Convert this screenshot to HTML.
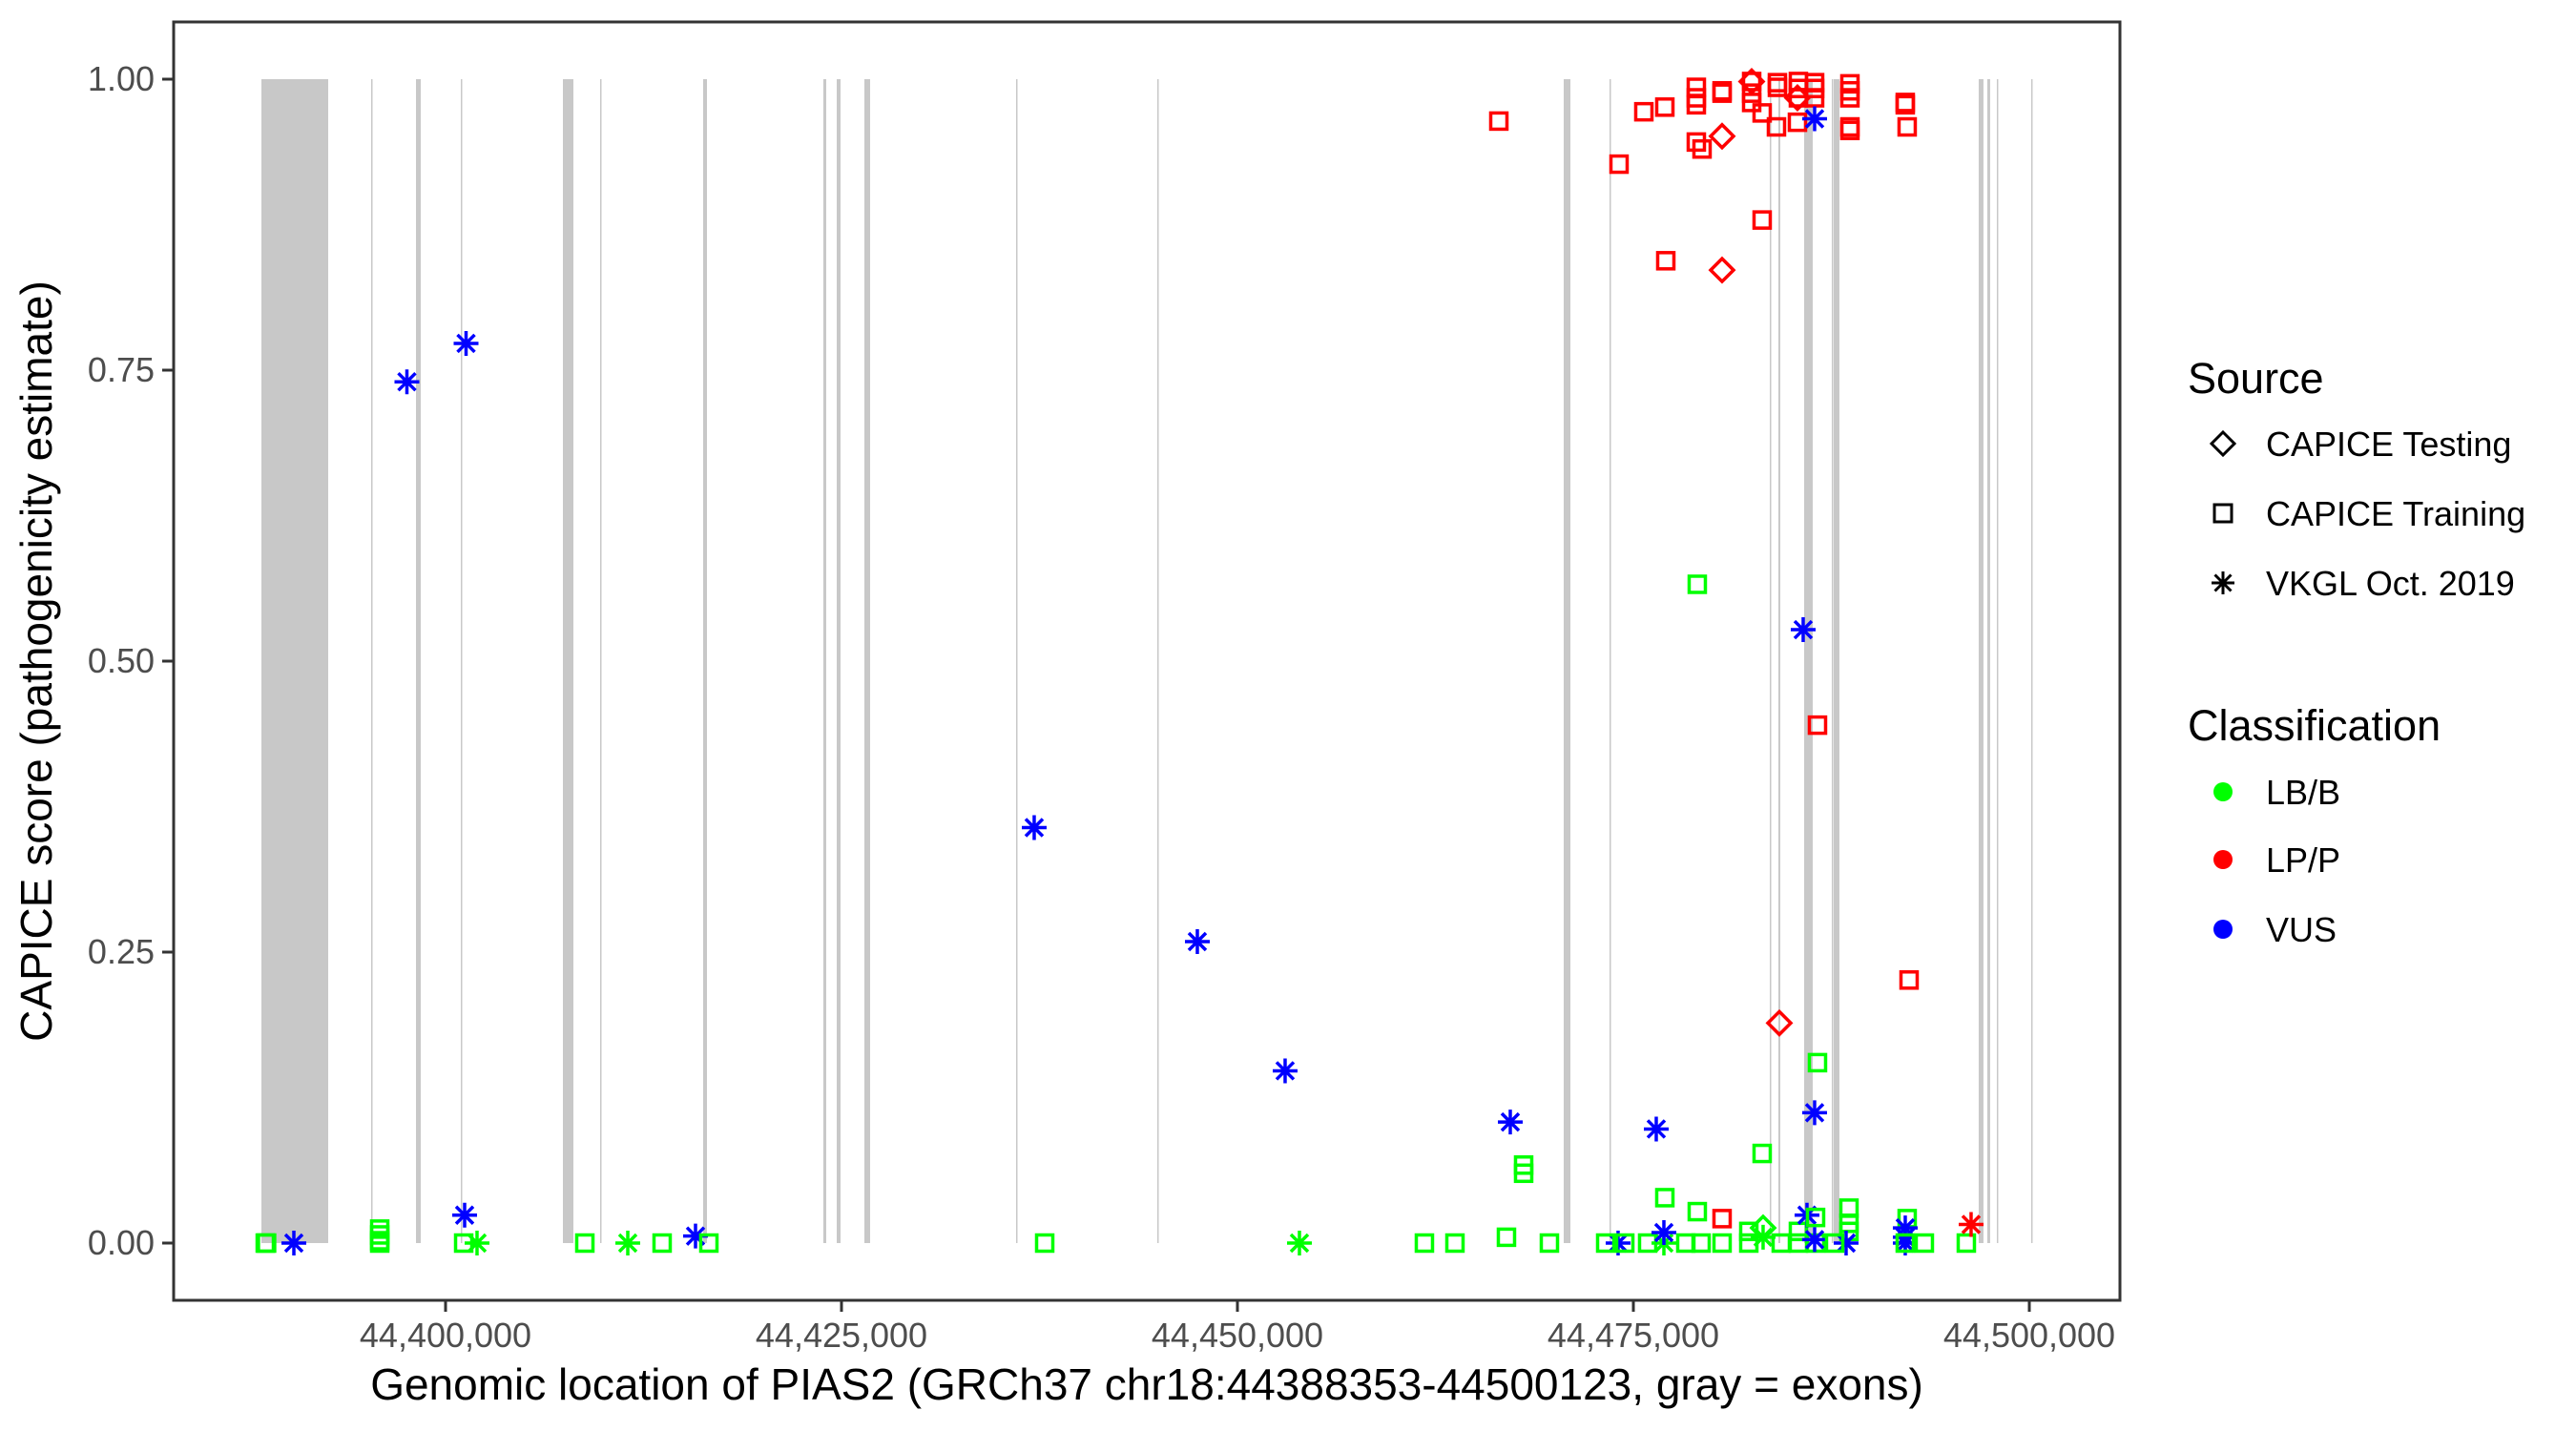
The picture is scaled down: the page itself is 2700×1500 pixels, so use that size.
<!DOCTYPE html>
<html><head><meta charset="utf-8"><style>
html,body{margin:0;padding:0;background:#fff;}
svg{display:block;font-family:"Liberation Sans",Arial,sans-serif;}
</style></head><body>
<svg id="chart" width="2700" height="1500" viewBox="0 0 2700 1500" xmlns="http://www.w3.org/2000/svg">
<rect x="0" y="0" width="2700" height="1500" fill="#fff"/>
<g id="exons"></g>
<g id="points"></g>
<rect x="182" y="23" width="2040" height="1340" fill="none" stroke="#333" stroke-width="3"/>
<g id="yaxis"></g>
<g id="xaxis"></g>
<text x="1202" y="1467" font-size="46" text-anchor="middle" fill="#000">Genomic location of PIAS2 (GRCh37 chr18:44388353-44500123, gray = exons)</text>
<text transform="translate(54,693) rotate(-90)" font-size="46" text-anchor="middle" fill="#000">CAPICE score (pathogenicity estimate)</text>
<g id="legend">
<text x="2293" y="412" font-size="45" fill="#000">Source</text>
<path d="M2330 453 L2342 465 L2330 477 L2318 465 Z" fill="none" stroke="#000" stroke-width="3"/>
<text x="2375" y="478" font-size="36">CAPICE Testing</text>
<rect x="2321" y="529" width="18" height="18" fill="none" stroke="#000" stroke-width="3"/>
<text x="2375" y="551" font-size="36">CAPICE Training</text>
<g stroke="#000" stroke-width="3"><line x1="2330" y1="599" x2="2330" y2="623"/><line x1="2318" y1="611" x2="2342" y2="611"/><line x1="2321.5" y1="602.5" x2="2338.5" y2="619.5"/><line x1="2321.5" y1="619.5" x2="2338.5" y2="602.5"/></g>
<text x="2375" y="624" font-size="36">VKGL Oct. 2019</text>
<text x="2293" y="776" font-size="45" fill="#000">Classification</text>
<circle cx="2330" cy="830" r="10" fill="#00ff00"/>
<text x="2375" y="843" font-size="36">LB/B</text>
<circle cx="2330" cy="901" r="10" fill="#ff0000"/>
<text x="2375" y="914" font-size="36">LP/P</text>
<circle cx="2330" cy="974" r="10" fill="#0000ff"/>
<text x="2375" y="987" font-size="36">VUS</text>
</g>
</svg>
<script>
const exonStart=[44388374,44395301,44398133,44400964,44407410,44409759,44416265,44423855,44424699,44426446,44436024,44444939,44470601,44473493,44483613,44484155,44485782,44487527,44487648,44496804,44497346,44497948,44500117];
const exonEnd=[44392590,44395361,44398434,44401024,44408072,44409819,44416506,44424036,44424940,44426807,44436084,44444999,44471023,44473553,44483673,44484275,44486324,44487587,44488009,44497105,44497527,44498008,44500177];
const xTicks=[44400000,44425000,44450000,44475000,44500000];
const xTickLabels=["44,400,000","44,425,000","44,450,000","44,475,000","44,500,000"];
const yTicks=[0,0.25,0.5,0.75,1];
const yTickLabels=["0.00","0.25","0.50","0.75","1.00"];
// points: position, score, classification (B=LB/B,P=LP/P,V=VUS), source (T=testing,R=training,K=VKGL)
const ptPos=[
44388615,44388700,44390422,44395843,44395843,44395843,44395843,44401205,44401145,44401988,
44408795,44411506,44413674,44415783,44416626,44437831,44453915,44397560,44401295,44437168,
44447469,44453011,44467228,44461806,44463734,44466987,44469698,44468071,44468071,44474035,
44473253,44474458,44476445,44475902,44476987,44476927,44476927,44478312,44479276,44479035,
44480601,44480601,44482288,44483131,44483191,44483191,44484336,44485420,44485420,44485962,
44486504,44486504,44486444,44486444,44488613,44488613,44488613,44488432,44487709,44492287,
44492167,44492167,44492167,44492167,44493372,44496023,44496324,44482288,44485722,44479035,
44486625,44484216,44492408,44486625,44466505,44474095,44475661,44476987,44478975,44478975,
44478975,44478975,44479336,44480601,44480601,44480601,44480601,44477047,44482469,44482469,
44482469,44482469,44483131,44483131,44484095,44484095,44484035,44485420,44485420,44485420,
44485360,44485360,44486444,44486444,44486444,44486444,44488673,44488673,44488673,44488673,
44488673,44492167,44492167,44492287];
const ptScore=[
0,0,0,0.012,0.007,0.002,0,0.024,0,0,
0,0,0,0.006,0,0,0,0.74,0.773,0.357,
0.259,0.148,0.104,0,0,0.005,0,0.067,0.06,0,
0,0,0.098,0,0.039,0,0.009,0,0,0.027,
0.021,0,0,0.077,0.005,0.013,0,0.01,0,0.024,
0.022,0,0.003,0.112,0.03,0.017,0.01,0,0,0.021,
0.013,0.005,0,0,0,0,0.016,0.01,0.527,0.566,
0.155,0.189,0.226,0.445,0.964,0.927,0.972,0.976,0.993,0.984,
0.978,0.946,0.94,0.99,0.988,0.951,0.836,0.844,0.998,0.988,
0.98,0.998,0.971,0.879,0.997,0.993,0.959,0.998,0.992,0.984,
0.963,0.984,0.997,0.992,0.984,0.966,0.996,0.99,0.984,0.959,
0.956,0.98,0.978,0.959];
const ptClass=[
"B","B","V","B","B","B","B","V","B","B",
"B","B","B","V","B","B","B","V","V","V",
"V","V","V","B","B","B","B","B","B","V",
"B","B","V","B","B","B","V","B","B","B",
"P","B","B","B","B","B","B","B","B","V",
"B","B","V","V","B","B","B","V","B","B",
"V","V","V","B","B","B","P","B","V","B",
"B","P","P","P","P","P","P","P","P","P",
"P","P","P","P","P","P","P","P","P","P",
"P","P","P","P","P","P","P","P","P","P",
"P","P","P","P","P","V","P","P","P","P",
"P","P","P","P"];
const ptSrc=[
"R","R","K","R","R","R","R","K","R","K",
"R","K","R","K","R","R","K","K","K","K",
"K","K","K","R","R","R","R","R","R","K",
"R","R","K","R","R","K","K","R","R","R",
"R","R","R","R","K","T","R","R","R","K",
"R","R","K","K","R","R","R","K","R","R",
"K","K","K","R","R","R","K","R","K","R",
"R","T","R","R","R","R","R","R","R","R",
"R","R","R","R","R","T","T","R","R","R",
"R","T","R","R","R","R","R","R","R","R",
"R","T","R","R","R","K","R","R","R","R",
"R","R","R","R"];

const NS="http://www.w3.org/2000/svg";
function xs(g){return 467+(g-44400000)*415/25000;}
function ys(s){return 1303-s*1220;}
function mk(tag,attrs,parent){const e=document.createElementNS(NS,tag);for(const k in attrs)e.setAttribute(k,attrs[k]);parent.appendChild(e);return e;}
const colors={B:"#00ff00",P:"#ff0000",V:"#0000ff"};

const gEx=document.getElementById("exons");
for(let i=0;i<exonStart.length;i++){
  const x0=xs(exonStart[i]),x1=xs(exonEnd[i]);
  const r=mk("rect",{x:x0,y:ys(1),width:Math.max(1.5,x1-x0),height:ys(0)-ys(1),fill:"#c8c8c8"},gEx);
  
  
}

const gY=document.getElementById("yaxis");
for(let i=0;i<yTicks.length;i++){
  const y=ys(yTicks[i]);
  const l=mk("line",{x1:170,x2:182,y1:y,y2:y,stroke:"#333","stroke-width":3},gY);
  
  
  const t=mk("text",{x:162,y:y+12,"font-size":36,"text-anchor":"end",fill:"#4d4d4d"},gY);
  t.textContent=yTickLabels[i];
  
  
}
const gX=document.getElementById("xaxis");
for(let i=0;i<xTicks.length;i++){
  const x=xs(xTicks[i]);
  const l=mk("line",{x1:x,x2:x,y1:1363,y2:1375,stroke:"#333","stroke-width":3},gX);
  
  
  const t=mk("text",{x:x,y:1412,"font-size":36,"text-anchor":"middle",fill:"#4d4d4d"},gX);
  t.textContent=xTickLabels[i];
  
  
}

const gP=document.getElementById("points");
for(let i=0;i<ptPos.length;i++){
  const x=xs(ptPos[i]),y=ys(ptScore[i]),c=colors[ptClass[i]];
  let el;
  if(ptSrc[i]==="R"){
    el=mk("rect",{x:x-8.5,y:y-8.5,width:17,height:17,fill:"none",stroke:c,"stroke-width":3.5},gP);
  }else if(ptSrc[i]==="T"){
    el=mk("path",{d:`M${x} ${y-12}L${x+12} ${y}L${x} ${y+12}L${x-12} ${y}Z`,fill:"none",stroke:c,"stroke-width":3.5},gP);
  }else{
    el=mk("path",{d:`M${x} ${y-13}V${y+13}M${x-13} ${y}H${x+13}M${x-9} ${y-9}L${x+9} ${y+9}M${x-9} ${y+9}L${x+9} ${y-9}`,fill:"none",stroke:c,"stroke-width":3.5},gP);
  }
  
  
}
</script>
</body></html>
